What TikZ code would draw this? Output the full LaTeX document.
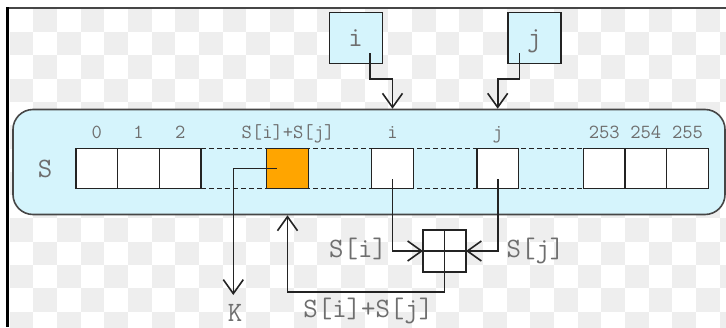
\documentclass[tikz,border=0pt]{standalone}
\usetikzlibrary{arrows.meta,calc}
\definecolor{panel}{RGB}{213,244,252}
\definecolor{tile}{RGB}{238,238,238}
\definecolor{ink}{RGB}{35,35,35}
\definecolor{rim}{RGB}{70,70,70}
\definecolor{labelgrey}{RGB}{110,110,110}
\definecolor{sumfill}{RGB}{255,165,0}
\tikzset{
  cell/.style={draw=ink, line width=1.5pt, fill=white, minimum width=41.7pt,
    minimum height=40pt, inner sep=0pt, outer sep=0pt},
  varbox/.style={draw=ink, line width=1.4pt, fill=panel, minimum width=53pt,
    minimum height=50.6pt, inner sep=0pt, outer sep=0pt, text=labelgrey,
    font=\ttfamily\fontsize{28}{28}\selectfont, text depth=0pt},
  adder/.style={draw=ink, line width=1.4pt, fill=white, minimum width=43pt,
    minimum height=42pt, inner sep=0pt, outer sep=0pt},
  idx/.style={text=labelgrey, font=\ttfamily\fontsize{20}{20}\selectfont,
    inner sep=0pt, anchor=base},
  lbl/.style={text=labelgrey, font=\ttfamily\fontsize{28}{28}\selectfont,
    inner sep=0pt, anchor=base},
  wire/.style={draw=ink, line width=1.6pt},
  barb/.style={-{Straight Barb[length=14pt,width=20pt]}},
  gap/.style={draw=ink, line width=1.6pt, dash pattern=on 4.5pt off 3.5pt},
}
\begin{document}
\begin{tikzpicture}[x=1pt,y=-1pt]
\useasboundingbox (0,0) rectangle (726,327);
\fill[white] (0,0) rectangle (726,327);

% checkered backdrop
\begin{scope}
  \clip (9,9) rectangle (726,327);
  \foreach \r in {0,...,13}{
    \foreach \c in {0,...,30}{
      \pgfmathtruncatemacro{\parity}{mod(\r+\c,2)}
      \ifnum\parity=1
        \fill[tile] ({9.63+23.67*\c},{8.7+23.3*\r}) rectangle ++(23.67,23.3);
      \fi
    }
  }
\end{scope}

% frame edges
\draw[line width=2pt, rim] (6,8) -- (726,8);
\draw[line width=3pt, black] (7.5,7) -- (7.5,327);

% state array panel
\node[draw=rim, line width=1.6pt, fill=panel, rounded corners=20pt,
  minimum width=712pt, minimum height=105pt, inner sep=0pt] (pan) at (369,162) {};

% cells
\node[cell] (c0) at (96.8,168.3) {};
\node[cell] (c1) at (138.5,168.3) {};
\node[cell] (c2) at (180.2,168.3) {};
\node[cell, fill=sumfill] (cs) at (287.5,168.3) {};
\node[cell] (ci) at (392.5,168.3) {};
\node[cell] (cj) at (497.7,168.3) {};
\node[cell] (c253) at (604.2,168.3) {};
\node[cell] (c254) at (645.8,168.3) {};
\node[cell] (c255) at (687.5,168.3) {};

% elided cells
\draw[gap] (c2.north east) -- (c253.north west);
\draw[gap] (c2.south east) -- (c253.south west);

% index labels
\node[idx] (l0) at (96.8,138.5) {0};
\node[idx] (l1) at (138.5,138.5) {1};
\node[idx] (l2) at (180.2,138.5) {2};
\node[idx] (ls) at (288,138.5) {S[i]+S[j]};
\node[idx] (li) at (392.5,138.5) {i};
\node[idx] (lj) at (497.7,138.5) {j};
\node[idx] (l253) at (604.2,138.5) {253};
\node[idx] (l254) at (645.8,138.5) {254};
\node[idx] (l255) at (687.5,138.5) {255};
\node[lbl] (sname) at (45,177.5) {S};

% index registers
\node[varbox] (vi) at (355.7,38) {i};
\node[varbox] (vj) at (534.3,38) {j};
\coordinate (ia) at (370,53);
\coordinate (ja) at (519.3,53);
\draw[wire, barb] (ia) -- ++(0,26) -| (ci |- pan.north);
\draw[wire, barb] (ja) -- ++(0,26) -| (cj |- pan.north);

% adder
\node[adder] (add) at (444.5,251) {};
\draw[wire, line width=1.4pt] (add.north) -- (add.south);
\draw[wire, line width=1.4pt] (add.west) -- (add.east);

\coordinate (ifrom) at (392.5,179);
\coordinate (jfrom) at (497.7,179);
\draw[wire, barb] (ifrom) |- (add.west);
\draw[wire, barb] (jfrom) |- (add.east);
\draw[wire, barb] (add.center) -- ++(0,41) -| (cs |- pan.south);

% output byte
\coordinate (kfrom) at (276.7,168.3);
\coordinate (kend) at (233.3,295);
\draw[wire, barb] (kfrom) -| (kend);

% wire labels
\node[lbl] (tsi) at (358,257.5) {S[i]};
\node[lbl] (tsj) at (535.5,257.5) {S[j]};
\node[lbl] (tsum) at (368.3,317.5) {S[i]+S[j]};
\node[lbl] (tk) at (235,321) {K};
\end{tikzpicture}
\end{document}
